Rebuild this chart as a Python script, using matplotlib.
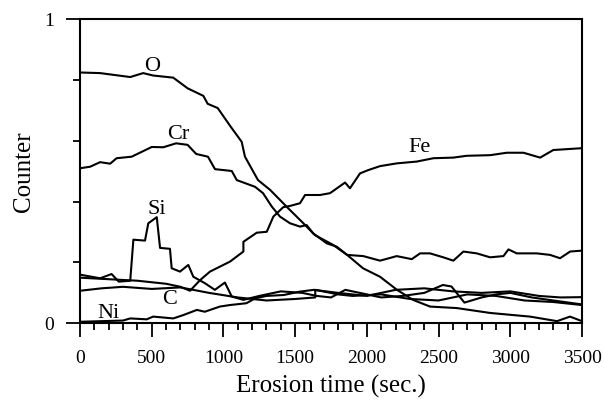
import matplotlib
matplotlib.use("Agg")
import matplotlib.pyplot as plt
from matplotlib.ticker import MultipleLocator, FixedLocator

plt.rcParams["font.family"] = ["Liberation Serif", "DejaVu Serif"]

# ----------------------------------------------- Data -----------------------------------------------
# Erosion time (sec.) and counter value for each element

o_t = [0, 140, 350, 440, 510, 650, 750, 860, 890, 960, 1050, 1127, 1150, 1241, 1325,
       1450, 1555, 1638, 1764, 1862, 1973, 2092, 2210, 2322, 2440, 2628, 2859, 3137,
       3326, 3416, 3500]
o_v = [0.825, 0.823, 0.81, 0.823, 0.815, 0.808, 0.773, 0.748, 0.722, 0.708, 0.647, 0.597,
       0.548, 0.471, 0.439, 0.379, 0.330, 0.290, 0.258, 0.225, 0.181, 0.153, 0.110, 0.077,
       0.055, 0.050, 0.034, 0.022, 0.007, 0.022, 0.007]

cr_t = [0, 70, 140, 210, 255, 360, 500, 580, 670, 750, 810, 892, 941, 1058, 1093, 1220,
        1276, 1337, 1394, 1464, 1534, 1580, 1625, 1720, 1790, 1862, 1975, 2092, 2208,
        2313, 2371, 2440, 2533, 2603, 2673, 2766, 2859, 2952, 2987, 3045, 3184, 3277,
        3347, 3417, 3500]
cr_v = [0.51, 0.515, 0.53, 0.525, 0.543, 0.548, 0.58, 0.579, 0.592, 0.587, 0.557, 0.548,
        0.507, 0.501, 0.471, 0.449, 0.428, 0.384, 0.351, 0.329, 0.318, 0.323, 0.296, 0.263,
        0.252, 0.225, 0.221, 0.206, 0.221, 0.211, 0.230, 0.230, 0.217, 0.206, 0.236, 0.230,
        0.217, 0.221, 0.243, 0.230, 0.230, 0.225, 0.214, 0.236, 0.239]

fe_t = [0, 200, 400, 500, 600, 700, 767, 837, 906, 1046, 1139, 1139, 1232, 1302, 1348,
        1417, 1464, 1534, 1569, 1673, 1743, 1848, 1882, 1952, 2010, 2092, 2208, 2348,
        2464, 2603, 2696, 2859, 2975, 3092, 3208, 3300, 3500]
fe_v = [0.15, 0.145, 0.14, 0.135, 0.13, 0.12, 0.107, 0.142, 0.170, 0.203, 0.236, 0.268,
        0.298, 0.301, 0.351, 0.382, 0.386, 0.395, 0.422, 0.422, 0.428, 0.463, 0.444, 0.493,
        0.504, 0.517, 0.526, 0.532, 0.543, 0.545, 0.551, 0.553, 0.561, 0.561, 0.545, 0.570,
        0.576]

si_t = [0, 140, 220, 270, 350, 372, 453, 476, 535, 558, 627, 639, 697, 755, 790, 870,
        940, 1010, 1058, 1139, 1250, 1400, 1550, 1650, 1750, 1850, 1950, 2100, 2250, 2400,
        2530, 2590, 2680, 2800, 2900, 3000, 3150, 3300, 3500]
si_v = [0.16, 0.148, 0.162, 0.137, 0.14, 0.275, 0.272, 0.329, 0.349, 0.248, 0.245, 0.181,
        0.17, 0.192, 0.153, 0.132, 0.11, 0.134, 0.088, 0.077, 0.09, 0.105, 0.10, 0.09,
        0.085, 0.11, 0.10, 0.085, 0.09, 0.10, 0.126, 0.121, 0.068, 0.085, 0.095, 0.10,
        0.085, 0.075, 0.062]

c_t = [0, 150, 300, 500, 700, 900, 1100, 1300, 1500, 1640, 1640, 1800, 1900, 2100, 2300,
       2500, 2700, 2900, 3100, 3300, 3500]
c_v = [0.107, 0.115, 0.12, 0.113, 0.118, 0.10, 0.085, 0.075, 0.08, 0.085, 0.11, 0.095,
       0.09, 0.095, 0.08, 0.075, 0.095, 0.09, 0.075, 0.07, 0.06]

ni_t = [0, 300, 350, 465, 510, 650, 720, 815, 870, 975, 1045, 1160, 1220, 1300, 1420,
        1530, 1630, 1800, 2000, 2200, 2400, 2600, 2800, 3000, 3200, 3350, 3500]
ni_v = [0.005, 0.009, 0.016, 0.013, 0.022, 0.016, 0.027, 0.044, 0.038, 0.055, 0.06, 0.066,
        0.082, 0.09, 0.093, 0.104, 0.11, 0.10, 0.09, 0.11, 0.115, 0.105, 0.10, 0.105,
        0.09, 0.085, 0.086]

series = [(o_t, o_v), (cr_t, cr_v), (fe_t, fe_v), (si_t, si_v), (c_t, c_v), (ni_t, ni_v)]

# element name and where its label sits (time, counter)
label_names = ["O", "Cr", "Fe", "Si", "C", "Ni"]
label_t = [501, 685, 2366, 535, 623, 197]
label_v = [0.846, 0.621, 0.579, 0.375, 0.077, 0.033]

# ----------------------------------------------- Plot -----------------------------------------------

fig = plt.figure(figsize=(6.04, 4.01), dpi=100)
ax = fig.add_axes([0.1325, 0.1938, 0.8311, 0.7581])

for t, v in series:
    ax.plot(t, v, color="black", linewidth=1.5)

for name, t, v in zip(label_names, label_t, label_v):
    ax.text(t, v, name, fontsize=16, ha="center", va="center")

ax.set_xlim(0, 3500)
ax.set_ylim(0, 1)

ax.xaxis.set_major_locator(MultipleLocator(500))
ax.xaxis.set_minor_locator(MultipleLocator(100))
ax.yaxis.set_major_locator(FixedLocator([0, 1]))
ax.yaxis.set_minor_locator(FixedLocator([0.2, 0.4, 0.6, 0.8]))
ax.set_yticklabels(["0", "1"])

ax.tick_params(which="major", direction="out", length=10, width=1.3, labelsize=14, pad=9)
ax.tick_params(which="minor", direction="out", length=5, width=1.3)
ax.tick_params(axis="y", which="major", pad=9)

for sp in ax.spines.values():
    sp.set_linewidth(1.5)

ax.set_xlabel("Erosion time (sec.)", fontsize=18, labelpad=6)
ax.set_ylabel("Counter", fontsize=18, labelpad=6)

fig.savefig("out.png", dpi=100)
